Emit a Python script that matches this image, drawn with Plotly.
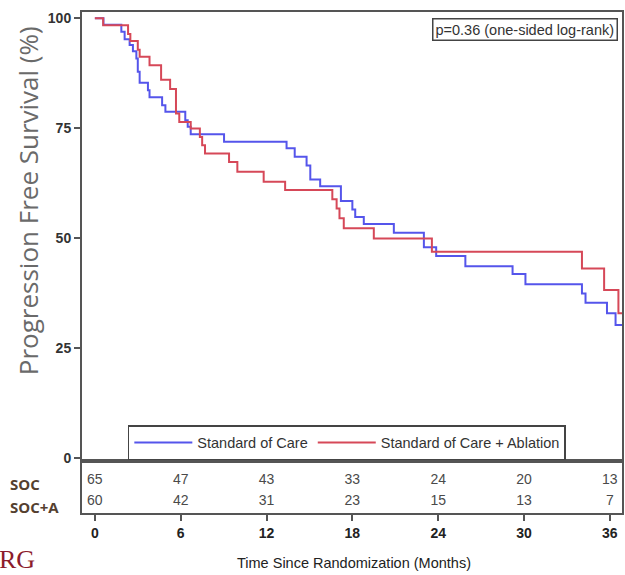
import plotly.graph_objects as go

# ---------------- data ----------------
soc_t = [0, 0.6, 1.85, 2.08, 2.43, 2.66, 2.9, 3.0, 3.13, 3.71, 3.82, 4.7, 4.93,
         6.32, 6.49, 6.7, 9.03, 13.4, 13.97, 14.8, 15.06, 15.75, 17.2, 18.0,
         18.2, 18.8, 20.9, 23.0, 23.86, 25.9, 29.2, 30.1, 34.05, 34.3, 35.8,
         36.4, 36.9]
soc_s = [100, 98.5, 96.9, 95.2, 93.9, 92.5, 90.8, 87.8, 85.3, 83.6, 82.0, 80.2,
         78.7, 76.8, 75.3, 73.6, 71.9, 70.4, 68.5, 66.5, 63.3, 61.8, 58.4, 56.5,
         54.8, 53.2, 51.2, 47.9, 45.9, 43.6, 41.8, 39.5, 37.4, 35.3, 32.9,
         30.2, 30.2]

soca_t = [0, 0.58, 2.32, 2.48, 3.0, 3.13, 3.82, 4.63, 5.26, 5.67, 5.9, 6.7,
          7.34, 7.5, 7.7, 9.38, 9.96, 11.8, 13.3, 16.6, 16.9, 17.1, 17.4, 19.5,
          23.56, 34.05, 35.6, 36.6, 36.9]
soca_s = [100, 98.4, 96.4, 94.8, 92.8, 91.2, 89.3, 86.0, 83.9, 78.3, 76.4, 74.9,
          73.0, 71.1, 69.2, 67.3, 65.1, 62.8, 60.9, 58.8, 56.7, 54.5, 52.2, 49.9,
          46.9, 43.1, 38.2, 32.9, 32.9]

risk_times = [0, 6, 12, 18, 24, 30, 36]
risk_soc = [65, 47, 43, 33, 24, 20, 13]
risk_soca = [60, 42, 31, 23, 15, 13, 7]

y_ticks = [0, 25, 50, 75, 100]
x_ticks = [0, 6, 12, 18, 24, 30, 36]

# ---------------- layout geometry ----------------
W, H = 625, 575
ML, MR, MT, MB = 82, 1, 12, 62
PW = W - ML - MR
PH = H - MT - MB
TABLE_PX = 52
split = TABLE_PX / PH


def px(x):
    return (x - ML) / PW


def py(y):
    return (H - MB - y) / PH


BLUE = "rgb(85,85,235)"
RED = "rgb(214,72,88)"
FRAME = "#555555"
NARROW = "Liberation Sans Narrow, Arial Narrow, Liberation Sans"

fig = go.Figure()
fig.add_trace(go.Scatter(x=soc_t, y=soc_s, mode="lines", line_shape="hv",
                         line=dict(color=BLUE, width=2),
                         name="Standard of Care"))
fig.add_trace(go.Scatter(x=soca_t, y=soca_s, mode="lines", line_shape="hv",
                         line=dict(color=RED, width=2),
                         name="Standard of Care + Ablation"))

fig.add_trace(go.Scatter(x=risk_times, y=[0.63] * len(risk_times), mode="text",
                         text=[str(v) for v in risk_soc], xaxis="x2", yaxis="y2",
                         textfont=dict(size=14, color="#4a4a4a", family=NARROW),
                         showlegend=False, hoverinfo="skip"))
fig.add_trace(go.Scatter(x=risk_times, y=[0.22] * len(risk_times), mode="text",
                         text=[str(v) for v in risk_soca], xaxis="x2", yaxis="y2",
                         textfont=dict(size=14, color="#4a4a4a", family=NARROW),
                         showlegend=False, hoverinfo="skip"))

xr = [-0.9, 36.85]

fig.update_layout(
    width=W, height=H,
    margin=dict(l=ML, r=MR, t=MT, b=MB),
    paper_bgcolor="white", plot_bgcolor="white",
    font=dict(family="Liberation Sans, Arial", color="#222"),
    xaxis=dict(domain=[0, 1], range=xr, showticklabels=False, ticks="",
               showgrid=False, zeroline=False, showline=True, mirror=True,
               linecolor=FRAME, linewidth=2, anchor="y"),
    yaxis=dict(domain=[split, 1], range=[-0.7, 101.4], tickvals=y_ticks,
               ticks="outside", ticklen=6, tickwidth=1.5, tickcolor=FRAME,
               tickfont=dict(size=14, color="#333", weight="bold"),
               showgrid=False, zeroline=False, showline=True, mirror=True,
               linecolor=FRAME, linewidth=2, anchor="x"),
    xaxis2=dict(domain=[0, 1], range=xr, tickvals=x_ticks, ticks="outside",
                ticklen=6, tickwidth=1.5, tickcolor=FRAME,
                tickfont=dict(size=14, color="#222", weight="bold"),
                showgrid=False, zeroline=False, showline=True, mirror=True,
                linecolor=FRAME, linewidth=2, anchor="y2"),
    yaxis2=dict(domain=[0, split], range=[0, 1], showticklabels=False,
                ticks="", showgrid=False, zeroline=False, showline=True,
                mirror=True, linecolor=FRAME, linewidth=2, anchor="x2"),
    legend=dict(orientation="h", x=px(128), y=py(425), xanchor="left",
                yanchor="top", bordercolor="#444", borderwidth=1.5,
                bgcolor="white", font=dict(size=14.5, color="#333"),
                itemwidth=58, tracegroupgap=0),
    showlegend=True,
)

annotations = [
    dict(text="Progression Free Survival (%)", x=px(28), y=py(201),
         xref="paper", yref="paper", textangle=-90, showarrow=False,
         xanchor="center", yanchor="middle",
         font=dict(family="Open Sans, Noto Sans", size=26, color="#6a6a6a")),
    dict(text="Time Since Randomization (Months)", x=px(355), y=py(563),
         xref="paper", yref="paper", showarrow=False, xanchor="center",
         yanchor="middle", font=dict(size=14.5, color="#222")),
    dict(text="p=0.36 (one-sided log-rank)", x=px(620), y=py(30),
         xref="paper", yref="paper", showarrow=False, xanchor="right",
         yanchor="middle", bordercolor="#444", borderwidth=1.5, borderpad=2,
         bgcolor="white", font=dict(size=14.5, color="#333")),
    dict(text="<b>SOC</b>", x=px(8), y=py(484), xref="paper", yref="paper",
         showarrow=False, xanchor="left", yanchor="middle",
         font=dict(family="Open Sans, Noto Sans", size=15, color="#54402f")),
    dict(text="<b>SOC+A</b>", x=px(8), y=py(507), xref="paper", yref="paper",
         showarrow=False, xanchor="left", yanchor="middle",
         font=dict(family="Open Sans, Noto Sans", size=15, color="#54402f")),
    dict(text="RG", x=px(37), y=py(576), xref="paper", yref="paper",
         showarrow=False, xanchor="right", yanchor="bottom",
         font=dict(family="Liberation Serif, Times New Roman", size=26,
                   color="#8c1c2c")),
]
fig.update_layout(annotations=annotations)

fig.write_html("out.html")
